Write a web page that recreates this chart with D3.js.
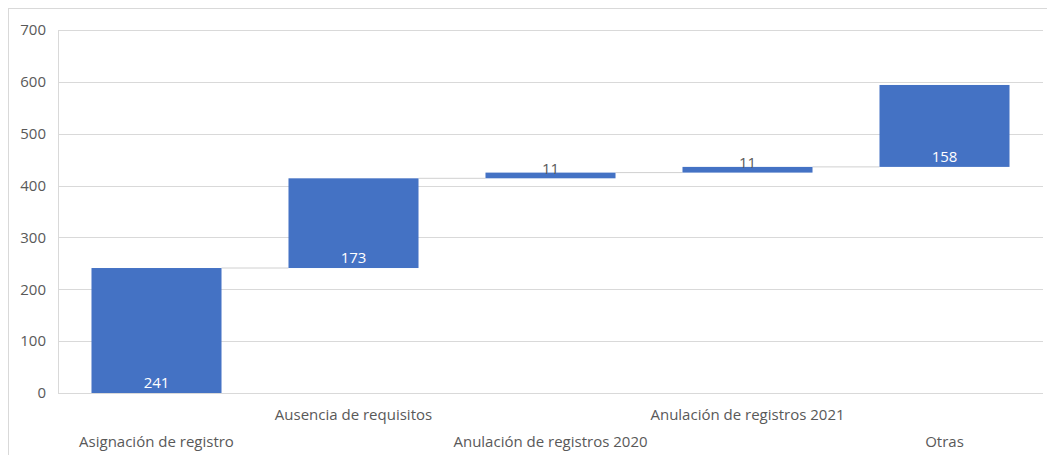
<!DOCTYPE html>
<html><head><meta charset="utf-8">
<script src="https://cdn.jsdelivr.net/npm/d3@7"></script>
<style>body{margin:0;background:#fff;} text{font-family:"Open Sans","Noto Sans",sans-serif;}</style>
</head><body><svg id="c" width="1047" height="455"></svg>
<script>
const categories = ["Asignación de registro","Ausencia de requisitos","Anulación de registros 2020","Anulación de registros 2021","Otras"];
const values = [241, 173, 11, 11, 158];
const yTicks = [0,100,200,300,400,500,600,700];

const svg = d3.select("#c");
const W = 1047, H = 455;
const m = {left:58, right:4, top:30, bottom:62};
svg.append("rect").attr("x",8.5).attr("y",8.5).attr("width",W).attr("height",H).attr("fill","#fff").attr("stroke","#d9d9d9");

const x = d3.scaleBand().domain(categories).range([m.left, W-m.right]).paddingInner(0.34).paddingOuter(0.17);
const y = d3.scaleLinear().domain([0,700]).range([H-m.bottom, m.top]);

// grid
svg.append("g").selectAll("line").data(yTicks).join("line")
  .attr("x1",m.left).attr("x2",W-m.right)
  .attr("y1",d=>Math.round(y(d))+0.5).attr("y2",d=>Math.round(y(d))+0.5)
  .attr("stroke","#d9d9d9").attr("stroke-width",1);
svg.append("line").attr("x1",m.left+0.5).attr("x2",m.left+0.5).attr("y1",m.top).attr("y2",y(0)).attr("stroke","#d9d9d9");

const yAxis = d3.axisLeft(y).tickValues(yTicks).tickSize(0).tickPadding(0);
const ga = svg.append("g").attr("transform",`translate(${m.left-12},0)`).call(yAxis);
ga.select(".domain").remove();
ga.selectAll("text").attr("fill","#595959").style("font-size","15px").style("font-family","'Open Sans','Noto Sans',sans-serif");

// cumulative
let cum = 0;
const data = categories.map((c,i)=>{const s=cum; cum+=values[i]; return {c, v:values[i], start:s, end:cum};});

// connectors
svg.append("g").selectAll("line").data(data.slice(0,-1)).join("line")
  .attr("x1",(d)=>x(d.c)+x.bandwidth()).attr("x2",(d,i)=>x(data[i+1].c))
  .attr("y1",d=>y(d.end)).attr("y2",d=>y(d.end))
  .attr("stroke","#d0d0d0").attr("stroke-width",1);

svg.append("g").selectAll("rect").data(data).join("rect")
  .attr("x",d=>x(d.c)).attr("width",x.bandwidth())
  .attr("y",d=>y(d.end)).attr("height",d=>y(d.start)-y(d.end))
  .attr("fill","#4472c4");

// value labels
svg.append("g").selectAll("text").data(data).join("text")
  .attr("x",d=>x(d.c)+x.bandwidth()/2)
  .attr("y",d=> (y(d.start)-y(d.end))>25 ? y(d.start)-5 : y(d.end)+1)
  .attr("text-anchor","middle")
  .attr("fill",d=> (y(d.start)-y(d.end))>25 ? "#ffffff" : "#595959")
  .style("font-size","15px")
  .text(d=>d.v);

// category labels staggered
svg.append("g").selectAll("text").data(categories).join("text")
  .attr("x",d=>x(d)+x.bandwidth()/2)
  .attr("y",(d,i)=> i%2===0 ? 447 : 420)
  .attr("text-anchor","middle")
  .attr("fill","#595959")
  .style("font-size","15px")
  .text(d=>d);
</script></body></html>
